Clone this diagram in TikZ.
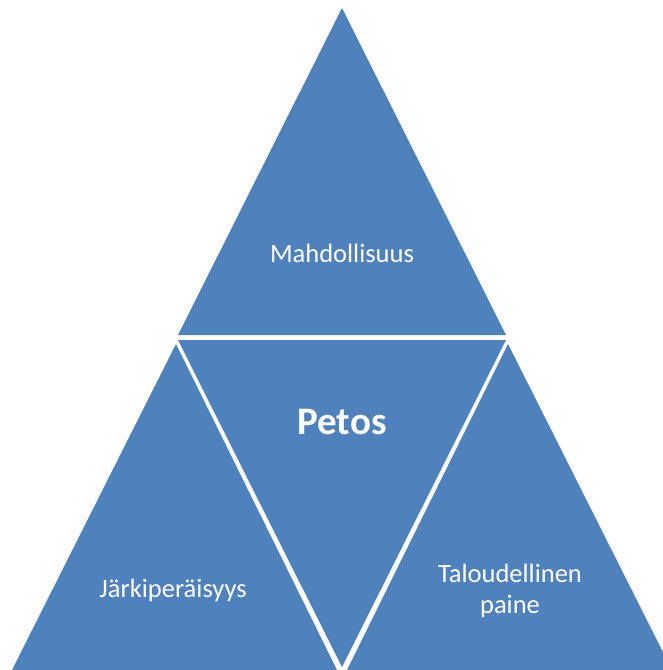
\documentclass[tikz,border=0pt]{standalone}
\usepackage{fontspec}
\setmainfont{Carlito}
\definecolor{facetblue}{HTML}{4F81BD}

\begin{document}
\begin{tikzpicture}[x = 1pt, y = -1pt,
  facet/.style = {fill = facetblue},
  caption/.style = {text = white, align = center, font = \fontsize{26.5}{31}\selectfont}]
\useasboundingbox (0,0) rectangle (663,670);
\clip (0,0) rectangle (663,670);
\fill[facet] (342,8) -- (178,335) -- (506,335) -- cycle;
\fill[facet] (178,340) -- (506,340) -- (342,667) -- cycle;
\fill[facet] (176,344) -- (12,670) -- (337,670) -- cycle;
\fill[facet] (508,344) -- (347,670) -- (672,670) -- cycle;
\node[caption] (chance) at (342,253) {Mahdollisuus};
\node[caption, font = \fontsize{39}{46}\bfseries] (fraud) at (342,422) {Petos};
\node[caption] (reason) at (173,590) {Järkiperäisyys};
\node[caption] (pressure) at (510,591) {Taloudellinen\\paine};
\end{tikzpicture}
\end{document}
